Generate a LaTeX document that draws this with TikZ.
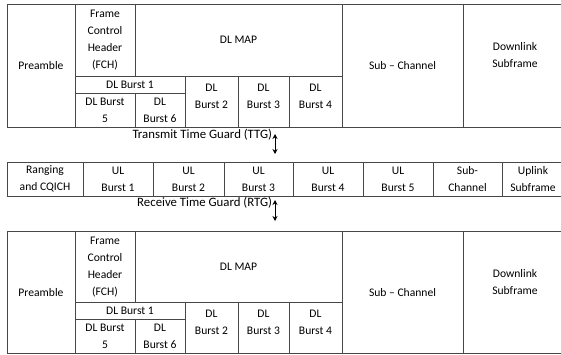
\documentclass[tikz,border=0pt]{standalone}
\usepackage{fontspec}
\setmainfont{Carlito}
\usetikzlibrary{arrows.meta}
\tikzset{
  cell/.style={draw=black!72, line width=0.9pt, inner sep=0pt, outer sep=0pt,
    align=center, font=\fontsize{11.6}{17}\selectfont},
  txt/.style={inner sep=0pt, outer sep=0pt, align=center, font=\fontsize{11.6}{17}\selectfont},
  glabel/.style={inner sep=0pt, outer sep=0pt, font=\fontsize{12.8}{16}\selectfont},
  guard/.style={black, line width=1pt, {Stealth[length=5pt,width=5pt]}-{Stealth[length=5pt,width=5pt]}}
}
\newcommand\dlframe[1]{%
  \node[cell, minimum width=68pt, minimum height=122.5pt] (#1pre) at (41,65.75) {Preamble};
  \node[cell, minimum width=60pt, minimum height=71.5pt] (#1fch) at (105,40.25) {Frame\\Control\\Header\\(FCH)};
  \node[cell, minimum width=207pt, minimum height=71.5pt] (#1map) at (238.5,40.25) {DL MAP};
  \node[cell, minimum width=110pt, minimum height=17pt] (#1bi) at (130,84.5) {DL Burst 1};
  \node[cell, minimum width=60pt, minimum height=34pt] (#1bv) at (105,110) {DL Burst\\5};
  \node[cell, minimum width=50pt, minimum height=34pt] (#1bvi) at (160,110) {DL\\Burst 6};
  \node[cell, minimum width=53pt, minimum height=51pt] (#1bii) at (211.5,101.5) {};
  \node[cell, minimum width=51pt, minimum height=51pt] (#1biii) at (263.5,101.5) {};
  \node[cell, minimum width=53pt, minimum height=51pt] (#1biv) at (315.5,101.5) {};
  \node[txt] (#1tii) at (211.5,96) {DL\\Burst 2};
  \node[txt] (#1tiii) at (263.5,96) {DL\\Burst 3};
  \node[txt] (#1tiv) at (315.5,96) {DL\\Burst 4};
  \node[cell, minimum width=121pt, minimum height=122.5pt] (#1sub) at (402.5,65.75) {Sub -- Channel};
  \node[cell, minimum width=104pt, minimum height=122.5pt] (#1dls) at (515,65.75) {Downlink\\Subframe\\[4pt]};
}
\begin{document}
\begin{tikzpicture}[x=1pt,y=-1pt]
\useasboundingbox (0,0) rectangle (561,354);
\clip (0,0) rectangle (561,354);
\begin{scope}
  \dlframe{t}
\end{scope}
\begin{scope}[yshift=-226.5pt]
  \dlframe{b}
\end{scope}
% TTG
\node[glabel, anchor=east] (ttg) at (272,135) {Transmit Time Guard (TTG)};
\coordinate (ttgA) at (275,134);
\coordinate (ttgB) at (275,154);
\draw[guard] (ttgA) -- (ttgB);
% UL row
\node[cell, minimum width=76pt, minimum height=34pt] (rng) at (45,179) {Ranging\\and CQICH};
\node[cell, minimum width=70pt, minimum height=34pt] (ul1) at (118,179) {UL\\Burst 1};
\node[cell, minimum width=71pt, minimum height=34pt] (ul2) at (188.5,179) {UL\\Burst 2};
\node[cell, minimum width=69pt, minimum height=34pt] (ul3) at (258.5,179) {UL\\Burst 3};
\node[cell, minimum width=70pt, minimum height=34pt] (ul4) at (328,179) {UL\\Burst 4};
\node[cell, minimum width=70pt, minimum height=34pt] (ul5) at (398,179) {UL\\Burst 5};
\node[cell, minimum width=69pt, minimum height=34pt] (sch) at (467.5,179) {Sub-\\Channel};
\node[cell, minimum width=62pt, minimum height=34pt] (ups) at (533,179) {Uplink\\Subframe};
% RTG
\node[glabel, anchor=east] (rtg) at (272,203) {Receive Time Guard (RTG)};
\coordinate (rtgA) at (275,200);
\coordinate (rtgB) at (275,221);
\draw[guard] (rtgA) -- (rtgB);
\end{tikzpicture}
\end{document}
